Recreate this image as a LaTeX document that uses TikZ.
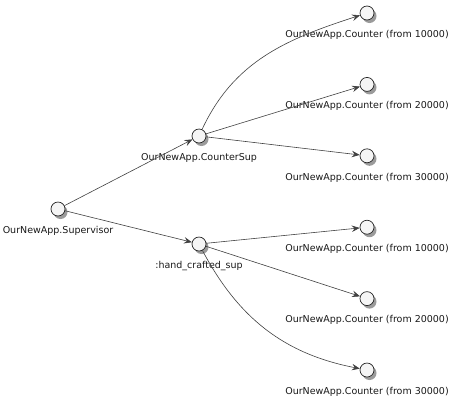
\documentclass[tikz,border=0pt]{standalone}
\usepackage{fontspec}
\setmainfont{DejaVu Sans}
\usetikzlibrary{positioning,shadows,arrows.meta}

\begin{document}
\begin{tikzpicture}[x=1pt,y=1pt,node distance=71.4pt,on grid,
		label distance=9.5pt,
		every label/.style={font=\fontsize{9.5}{11}\selectfont,text=black!90,inner sep=0pt},
		actor/.style={circle,draw=black!85,line width=0.7pt,fill=black!4,minimum size=14pt,inner sep=0pt,
			drop shadow={shadow xshift=2.5pt,shadow yshift=-3pt,opacity=0.6,fill=black!65}},
		every edge/.style={draw=black!75,line width=0.6pt},
		>={Stealth[length=8pt,width=6.5pt,inset=3pt]}]
		\useasboundingbox (0,0) rectangle (452,-400);
		\node[actor,label=below:OurNewApp.Supervisor](sup) at (58,-209) {};
		\node[actor,label=below:OurNewApp.CounterSup](csup) at (199,-136) {};
		\node[actor,label=below::hand\_crafted\_sup](hand)[below=108pt of csup] {};
		\node[actor,label=below:OurNewApp.Counter (from 10000)](c1) at (367,-13) {};
		\node[actor,label=below:OurNewApp.Counter (from 20000)](c2)[below of=c1] {};
		\node[actor,label=below:OurNewApp.Counter (from 30000)](c3)[below of=c2] {};
		\node[actor,label=below:OurNewApp.Counter (from 10000)](c4)[below of=c3] {};
		\node[actor,label=below:OurNewApp.Counter (from 20000)](c5)[below of=c4] {};
		\node[actor,label=below:OurNewApp.Counter (from 30000)](c6)[below of=c5] {};
		\path[->]
		(sup) edge (csup)
		(sup) edge (hand)
		(csup) edge [out=65,in=198] (c1)
		(csup) edge (c2)
		(csup) edge (c3)
		(hand) edge (c4)
		(hand) edge (c5)
		(hand) edge [out=-62,in=169] (c6);
\end{tikzpicture}
\end{document}
